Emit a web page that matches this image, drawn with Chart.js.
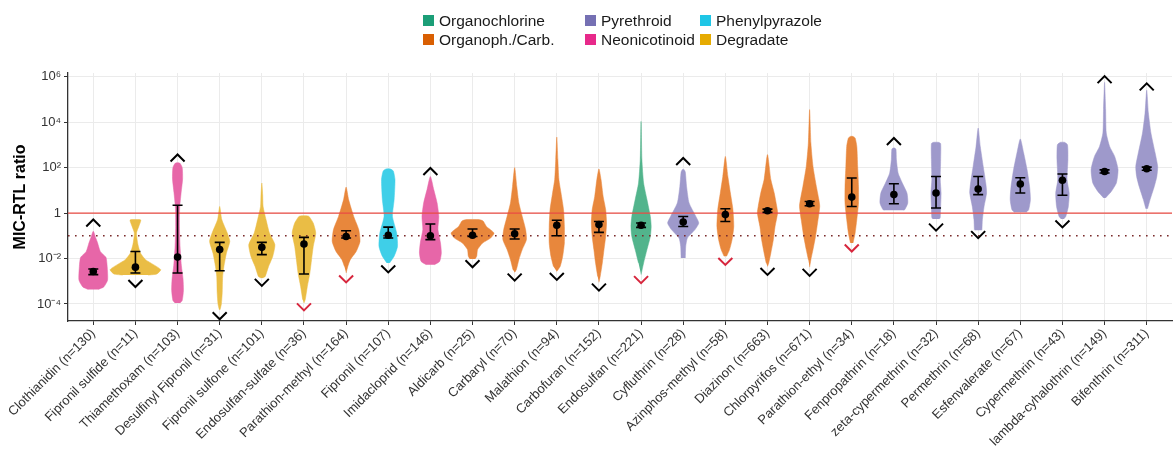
<!DOCTYPE html>
<html>
  <head>
    <meta charset="utf-8">
    <style type="text/css">
      body { margin: 0; background: #fff; }
      .wrap { position: relative; width: 1176px; height: 456px; }
      #legend {
        position: absolute; left: 423px; top: 11px;
        display: grid; grid-auto-flow: column;
        grid-template-rows: 19px 19px;
        grid-template-columns: 162px 115px auto;
        font-family: "Liberation Sans", Arial, sans-serif; font-size: 15.5px; color: #1a1a1a;
      }
      #legend span { display: flex; align-items: center; white-space: nowrap; }
      #legend i { display: inline-block; width: 11px; height: 11px; margin-right: 5px; }
    </style>
  </head>
  <body>
    <script src="https://cdn.jsdelivr.net/npm/chart.js@4.4.1/dist/chart.umd.min.js"></script>
    <div class="wrap">
      <canvas id="myChart" width="1176" height="456"></canvas>
      <div id="legend"></div>
    </div>
    <script>
      /* categories */
      const names = ['Clothianidin', 'Fipronil sulfide', 'Thiamethoxam', 'Desulfinyl Fipronil', 'Fipronil sulfone',
        'Endosulfan-sulfate', 'Parathion-methyl', 'Fipronil', 'Imidacloprid', 'Aldicarb', 'Carbaryl', 'Malathion',
        'Carbofuran', 'Endosulfan', 'Cyfluthrin', 'Azinphos-methyl', 'Diazinon', 'Chlorpyrifos', 'Parathion-ethyl',
        'Fenpropathrin', 'zeta-cypermethrin', 'Permethrin', 'Esfenvalerate', 'Cypermethrin', 'lambda-cyhalothrin', 'Bifenthrin'];
      const counts = [130, 11, 103, 31, 101, 36, 164, 107, 146, 25, 70, 94, 152, 221, 28, 58, 663, 671, 34, 18, 32, 68, 67, 43, 149, 311];
      const groups = ['Neonicotinoid', 'Degradate', 'Neonicotinoid', 'Degradate', 'Degradate', 'Degradate', 'Organoph./Carb.',
        'Phenylpyrazole', 'Neonicotinoid', 'Organoph./Carb.', 'Organoph./Carb.', 'Organoph./Carb.', 'Organoph./Carb.',
        'Organochlorine', 'Pyrethroid', 'Organoph./Carb.', 'Organoph./Carb.', 'Organoph./Carb.', 'Organoph./Carb.',
        'Pyrethroid', 'Pyrethroid', 'Pyrethroid', 'Pyrethroid', 'Pyrethroid', 'Pyrethroid', 'Pyrethroid'];

      /* legend (column order) */
      const legendNames = ['Organochlorine', 'Organoph./Carb.', 'Pyrethroid', 'Neonicotinoid', 'Phenylpyrazole', 'Degradate'];
      const legendColors = ['#1b9e77', '#d95f02', '#7570b3', '#e7298a', '#1fc6e6', '#e6ab02'];
      const violinColors = ['#52b48c', '#e8873c', '#9e99cb', '#e766a8', '#3fcfe8', '#eabd45'];

      /* summary stats, log10 of MIC-RTL ratio */
      const medianLog = [-2.57, -2.38, -1.94, -1.61, -1.51, -1.36, -1.03, -0.98, -1.0, -0.98, -0.91, -0.54, -0.51,
        -0.54, -0.4, -0.07, 0.1, 0.41, 0.7, 0.81, 0.88, 1.06, 1.28, 1.44, 1.83, 1.95];
      const ciLowLog = [-2.71, -2.64, -2.64, -2.54, -1.83, -2.68, -1.1, -1.1, -1.17, -1.03, -1.14, -1.0, -0.85,
        -0.63, -0.59, -0.37, 0.03, 0.32, 0.29, 0.41, 0.22, 0.81, 0.88, 0.78, 1.76, 1.88];
      const ciHighLog = [-2.46, -1.69, 0.34, -1.29, -1.29, -1.07, -0.78, -0.62, -0.48, -0.7, -0.7, -0.32, -0.37,
        -0.44, -0.15, 0.19, 0.17, 0.51, 1.54, 1.29, 1.61, 1.61, 1.55, 1.72, 1.9, 2.02];

      /* censoring marks: ^ above / v below (log10), red = below detection */
      const capUpLog = [-0.44, null, 2.42, null, null, null, null, null, 1.83, null, null, null, null,
        null, 2.27, null, null, null, null, 3.15, null, null, null, null, 5.87, 5.55];
      const capDownLog = [null, -3.1, null, -4.52, -3.05, -4.13, -2.9, -2.46, null, -2.23, -2.82, -2.79, -3.26,
        -2.93, null, -2.13, -2.57, -2.61, -1.54, null, -0.62, -0.95, null, -0.48, null, null];
      const capDownRed = [false, false, false, false, false, true, true, false, false, false, false, false, false,
        true, false, true, false, false, true, false, false, false, false, false, false, false];

      /* violin outlines: [log10 value, half width in category units], bottom to top */
      const shapes = [
        [[-3.36,0.12],[-3.25,0.25],[-2.95,0.34],[-2.35,0.33],[-1.95,0.3],[-1.7,0.17],[-1.3,0.1],[-1.1,0.06],[-0.8,0]],
        [[-2.73,0.3],[-2.68,0.51],[-2.49,0.6],[-2.27,0.43],[-2.05,0.24],[-1.76,0.12],[-1.39,0.06],[-0.88,0.025],[-0.59,0.08],[-0.32,0.13],[-0.29,0.1]],
        [[-3.96,0.06],[-3.85,0.11],[-3.4,0.14],[-2.9,0.13],[-2.3,0.09],[-1.5,0.06],[-0.6,0.045],[0.2,0.05],[0.9,0.085],[1.5,0.12],[2.0,0.11],[2.2,0.05]],
        [[-4.25,0.01],[-4.0,0.04],[-3.5,0.06],[-2.8,0.07],[-2.35,0.1],[-1.76,0.16],[-1.25,0.24],[-0.88,0.18],[-0.29,0.05],[0.29,0]],
        [[-2.86,0.02],[-2.79,0.08],[-2.35,0.16],[-1.9,0.26],[-1.39,0.31],[-0.88,0.18],[-0.29,0.1],[0.29,0.03],[0.8,0.02],[1.32,0]],
        [[-3.96,0],[-3.81,0.03],[-3.23,0.08],[-2.64,0.14],[-2.05,0.18],[-1.47,0.22],[-0.88,0.28],[-0.44,0.22],[-0.15,0.12],[-0.12,0.05]],
        [[-2.64,0],[-2.35,0.04],[-2.05,0.1],[-1.69,0.24],[-1.25,0.33],[-0.73,0.3],[-0.15,0.18],[0.59,0.06],[1.14,0]],
        [[-2.2,0.03],[-1.9,0.14],[-1.47,0.22],[-0.88,0.2],[-0.15,0.1],[0.59,0.14],[1.47,0.16],[1.85,0.12],[1.94,0.05]],
        [[-2.27,0.1],[-2.13,0.22],[-1.76,0.26],[-1.32,0.24],[-0.73,0.18],[-0.15,0.2],[0.44,0.16],[1.03,0.08],[1.61,0]],
        [[-2.02,0.06],[-1.9,0.1],[-1.61,0.12],[-1.32,0.24],[-1.1,0.43],[-0.88,0.51],[-0.59,0.33],[-0.35,0.25],[-0.29,0.15]],
        [[-2.61,0],[-2.49,0.04],[-2.05,0.1],[-1.61,0.18],[-1.17,0.28],[-0.73,0.26],[-0.15,0.18],[0.44,0.1],[1.17,0.05],[2.0,0]],
        [[-2.57,0],[-2.35,0.08],[-1.9,0.14],[-1.32,0.18],[-0.59,0.18],[0.15,0.16],[0.88,0.1],[1.47,0.05],[2.35,0.025],[3.34,0]],
        [[-3.05,0],[-2.79,0.03],[-2.2,0.08],[-1.61,0.12],[-1.03,0.16],[-0.44,0.18],[0.15,0.16],[0.73,0.1],[1.47,0.05],[1.94,0]],
        [[-2.71,0],[-2.2,0.06],[-1.61,0.14],[-1.03,0.22],[-0.59,0.24],[-0.15,0.22],[0.59,0.14],[1.32,0.06],[2.35,0.02],[4.03,0]],
        [[-1.98,0.05],[-1.47,0.06],[-1.1,0.1],[-0.73,0.28],[-0.44,0.37],[-0.15,0.3],[0.44,0.14],[1.17,0.08],[1.8,0.05],[1.91,0.02]],
        [[-1.9,0.03],[-1.61,0.1],[-1.17,0.16],[-0.59,0.2],[0.15,0.18],[0.88,0.12],[1.61,0.06],[2.49,0]],
        [[-2.35,0],[-2.2,0.03],[-1.76,0.08],[-1.17,0.14],[-0.59,0.18],[0.0,0.24],[0.29,0.22],[0.88,0.16],[1.47,0.08],[2.57,0]],
        [[-2.38,0],[-2.05,0.03],[-1.61,0.08],[-1.03,0.14],[-0.29,0.2],[0.29,0.24],[0.59,0.22],[1.17,0.16],[2.05,0.08],[3.08,0.03],[4.55,0]],
        [[-1.32,0.03],[-0.88,0.08],[-0.29,0.12],[0.44,0.16],[1.17,0.16],[2.05,0.14],[2.93,0.12],[3.3,0.08],[3.37,0.03]],
        [[0.12,0.22],[0.15,0.26],[0.44,0.33],[0.88,0.31],[1.32,0.2],[1.76,0.1],[2.35,0.06],[2.8,0.05],[2.86,0.02]],
        [[-0.26,0.08],[-0.2,0.1],[0.29,0.11],[0.88,0.12],[1.47,0.1],[2.35,0.11],[3.05,0.11],[3.11,0.06]],
        [[-0.76,0.08],[-0.73,0.09],[-0.29,0.1],[0.29,0.14],[0.88,0.2],[1.32,0.18],[2.05,0.12],[2.93,0.05],[3.74,0]],
        [[0.03,0.14],[0.15,0.2],[0.59,0.24],[1.17,0.22],[1.91,0.16],[2.64,0.08],[3.26,0]],
        [[-0.26,0.03],[-0.15,0.08],[0.29,0.14],[0.88,0.16],[1.47,0.11],[2.35,0.13],[3.0,0.12],[3.11,0.05]],
        [[0.66,0.02],[0.95,0.16],[1.32,0.28],[1.91,0.32],[2.49,0.24],[2.93,0.12],[3.52,0.04],[4.55,0.025],[5.75,0]],
        [[0.19,0.02],[0.59,0.08],[1.17,0.18],[1.61,0.24],[2.05,0.26],[2.64,0.2],[3.52,0.1],[4.4,0.04],[5.4,0]]
      ];

      /* axes */
      const yTickValues = [1e-4, 1e-2, 1, 1e2, 1e4, 1e6];
      const yTickLabels = ['10\u207B\u2074', '10\u207B\u00B2', '1', '10\u00B2', '10\u2074', '10\u2076'];
      const yMinLog = -4.75, yMaxLog = 6.16;
      const xMin = -0.6, xMax = names.length - 0.4;
      const refLines = [1, 0.1];

      // legend as html, two rows like the original
      document.getElementById('legend').innerHTML = legendNames.map((n, i) =>
        '<span><i style="background:' + legendColors[i] + '"></i>' + n + '</span>').join('');

      Chart.defaults.font.family = '"Liberation Sans", Arial, sans-serif';

      const datasets = [];

      // medians on top
      datasets.push({
        data: medianLog.map((m, i) => ({x: i, y: 10 ** m})),
        showLine: false, pointRadius: 3.8, pointBackgroundColor: '#000', pointBorderWidth: 0, order: 0
      });

      // reference lines, drawn over the violins
      datasets.push({
        data: [{x: xMin, y: refLines[0]}, {x: xMax, y: refLines[0]}],
        borderColor: '#ea4b43', borderWidth: 1.3, pointRadius: 0, order: 1
      });
      datasets.push({
        data: [{x: xMin, y: refLines[1]}, {x: xMax, y: refLines[1]}],
        borderColor: '#7a2b2b', borderWidth: 1.6, borderDash: [1.6, 5.4], pointRadius: 0, order: 1
      });

      // violins as closed shapes
      shapes.forEach((knots, i) => {
        const col = violinColors[legendNames.indexOf(groups[i])];
        const pts = [];
        knots.forEach(k => pts.push({x: i + k[1], y: 10 ** k[0]}));
        for (let j = knots.length - 1; j >= 0; j--) {
          const k = knots[j];
          if (k[1] === 0) continue;
          pts.push({x: i - k[1], y: 10 ** k[0]});
        }
        datasets.push({
          data: pts, fill: 'shape', backgroundColor: col, borderColor: col, borderWidth: 0.5,
          tension: 0.2, pointRadius: 0, order: 2
        });
      });

      // error bars and censoring chevrons
      const extrasPlugin = {
        id: 'extras',
        afterDatasetsDraw(chart) {
          const ctx = chart.ctx, xs = chart.scales.x, ys = chart.scales.y;
          ctx.save();
          ctx.strokeStyle = '#000';
          ctx.lineWidth = 1.6;
          names.forEach((n, i) => {
            const px = xs.getPixelForValue(i);
            const lo = ys.getPixelForValue(10 ** ciLowLog[i]);
            const hi = ys.getPixelForValue(10 ** ciHighLog[i]);
            ctx.beginPath();
            ctx.moveTo(px, lo); ctx.lineTo(px, hi);
            ctx.moveTo(px - 5, lo); ctx.lineTo(px + 5, lo);
            ctx.moveTo(px - 5, hi); ctx.lineTo(px + 5, hi);
            ctx.stroke();
          });
          ctx.lineWidth = 2;
          names.forEach((n, i) => {
            const px = xs.getPixelForValue(i);
            if (capUpLog[i] !== null) {
              const py = ys.getPixelForValue(10 ** capUpLog[i]);
              ctx.strokeStyle = '#000';
              ctx.beginPath();
              ctx.moveTo(px - 7, py + 3.5); ctx.lineTo(px, py - 3.5); ctx.lineTo(px + 7, py + 3.5);
              ctx.stroke();
            }
            if (capDownLog[i] !== null) {
              const py = ys.getPixelForValue(10 ** capDownLog[i]);
              ctx.strokeStyle = capDownRed[i] ? '#d7263d' : '#000';
              ctx.beginPath();
              ctx.moveTo(px - 7, py - 3.5); ctx.lineTo(px, py + 3.5); ctx.lineTo(px + 7, py - 3.5);
              ctx.stroke();
            }
          });
          ctx.restore();
        }
      };

      const myChart = new Chart('myChart', {
        type: 'line',
        data: {datasets: datasets},
        plugins: [extrasPlugin],
        options: {
          responsive: false,
          animation: false,
          events: [],
          layout: {padding: {top: 73, right: 0, left: 0, bottom: 0}},
          plugins: {legend: {display: false}, tooltip: {enabled: false}},
          scales: {
            x: {
              type: 'linear', min: xMin, max: xMax, bounds: 'data',
              afterBuildTicks: s => { s.ticks = names.map((n, i) => ({value: i})); },
              afterFit: s => { s.height = 135; },
              ticks: {
                autoSkip: false, minRotation: 45, maxRotation: 45, padding: 1,
                color: '#333', font: {size: 13},
                callback: v => names[v] + ' (n=' + counts[v] + ')'
              },
              grid: {color: '#ebebeb', tickColor: '#333', tickLength: 4},
              border: {color: '#333', width: 1.3}
            },
            y: {
              type: 'logarithmic', min: 10 ** yMinLog, max: 10 ** yMaxLog, bounds: 'data',
              afterBuildTicks: s => { s.ticks = yTickValues.map(v => ({value: v})); },
              afterFit: s => { s.width = 68; },
              ticks: {
                color: '#333', font: {size: 13}, padding: 3,
                callback: (v, i) => yTickLabels[i]
              },
              grid: {color: '#ebebeb', tickColor: '#333', tickLength: 4},
              border: {color: '#333', width: 1.3},
              title: {display: true, text: 'MIC-RTL ratio', color: '#000', font: {size: 16, weight: 'bold'}, padding: {top: 11, bottom: 0}}
            }
          }
        }
      });
    </script>
  </body>
</html>
